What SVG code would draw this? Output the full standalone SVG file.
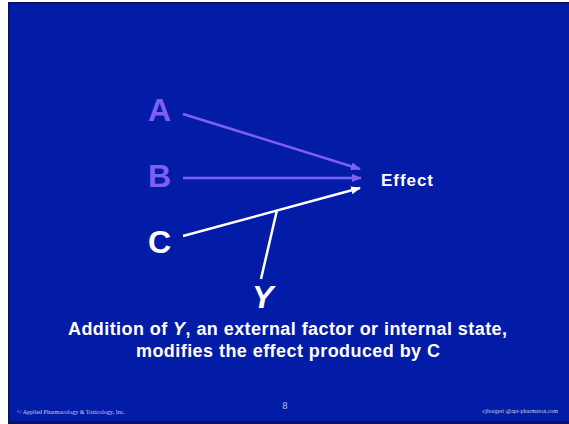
<svg xmlns="http://www.w3.org/2000/svg" width="569" height="424" viewBox="0 0 569 424">
<defs>
<style>
.lbl{font-family:"Liberation Sans",Arial,sans-serif;font-weight:bold;}
.purple{fill:#7E5FF2;}
.white{fill:#FFFFFF;}
.foot{font-family:"Liberation Serif","Times New Roman",serif;fill:#C8CCEE;}
.cap{font-family:"Liberation Sans",Arial,sans-serif;font-weight:bold;font-size:18px;fill:#FFFFFF;}
</style>
<marker id="ap" markerWidth="10" markerHeight="8" refX="9" refY="4" orient="auto" markerUnits="userSpaceOnUse"><path d="M0,0 L10,4 L0,8 Z" fill="#7E5FF2"/></marker>
<marker id="aw" markerWidth="10" markerHeight="8" refX="9" refY="4" orient="auto" markerUnits="userSpaceOnUse"><path d="M0,0 L10,4 L0,8 Z" fill="#FFFFFF"/></marker>
</defs>
<rect x="0" y="0" width="569" height="424" fill="#FFFFFF"/>
<rect x="8" y="2" width="563" height="422" fill="#031CA8"/>
<path d="M9,424 L9,3 L569,3" fill="none" stroke="#0A1460" stroke-width="2"/>
<rect x="8" y="421" width="561" height="3" fill="#0A1460"/>

<g id="connectors">
<line x1="183" y1="114" x2="360" y2="169" stroke="#7E5FF2" stroke-width="2.5" marker-end="url(#ap)"/>
<line x1="183" y1="178" x2="361" y2="178" stroke="#7E5FF2" stroke-width="2.5" marker-end="url(#ap)"/>
<line x1="183" y1="236" x2="360" y2="188" stroke="#FFFFFF" stroke-width="2.5" marker-end="url(#aw)"/>
<line x1="261" y1="279" x2="277" y2="210" stroke="#FFFFFF" stroke-width="2.5"/>
</g>

<g id="node-A"><text x="148" y="121" class="lbl purple" font-size="32">A</text></g>
<g id="node-B"><text x="148" y="187" class="lbl purple" font-size="32">B</text></g>
<g id="node-C"><text x="148" y="253" class="lbl white" font-size="32">C</text></g>
<g id="node-Y"><text x="252" y="308" class="lbl white" font-size="32" font-style="italic">Y</text></g>
<g id="node-Effect"><text x="381" y="186" class="lbl white" font-size="17" textLength="52">Effect</text></g>

<g id="caption">
<text x="68" y="335" class="cap" textLength="439">Addition of <tspan font-style="italic">Y</tspan>, an external factor or internal state,</text>
<text x="136" y="357" class="cap" textLength="304">modifies the effect produced by C</text>
</g>

<g id="footer">
<text x="17" y="414" class="foot" font-size="6">© Applied Pharmacology &amp; Toxicology, Inc.</text>
<text x="285" y="409" class="foot" font-size="10" text-anchor="middle">8</text>
<text x="558" y="413" class="foot" font-size="6" text-anchor="end">cjborgert @apt-pharmatox.com</text>
</g>
</svg>
